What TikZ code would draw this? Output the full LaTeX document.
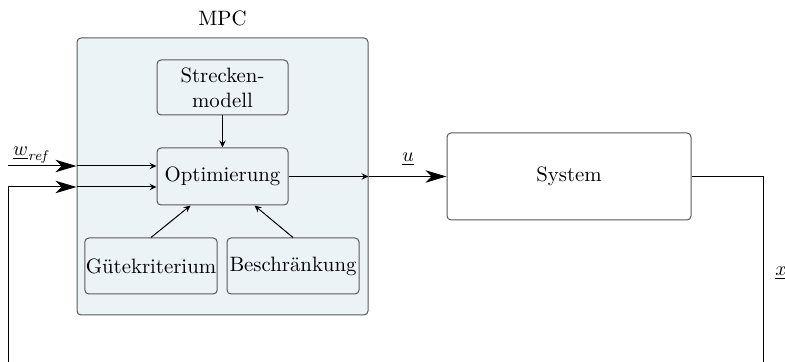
\documentclass[tikz,border=0pt]{standalone}
\usetikzlibrary{arrows.meta,calc}
\definecolor{mpcfill}{HTML}{ECF3F7}
\begin{document}
\begin{tikzpicture}[x=0.5pt,y=-0.5pt,
  every node/.style={font=\fontsize{10.4}{12.6}\selectfont},
  blockbox/.style={draw=black!65,line width=0.5pt,rounded corners=2pt,inner sep=0.5pt,align=center},
  conn/.style={line width=0.5pt},
  small/.style={-{Stealth[length=3.5pt,width=3.2pt,inset=1.3pt]}},
  big/.style={-{Stealth[length=10.5pt,width=6.2pt,inset=3pt]}}]
\useasboundingbox (0,0) rectangle (785,362);

% controller frame and its parts
\node[blockbox,fill=mpcfill,minimum width=145.5pt,minimum height=138.5pt] (mpc) at (222.5,176.5) {};
\node[above=2pt] (mpclabel) at (mpc.north) {MPC};
\node[blockbox,minimum width=65.5pt,minimum height=27.5pt] (model) at (222.5,87.5) {Strecken-\\modell};
\node[blockbox,minimum width=65.5pt,minimum height=28.5pt] (opt) at (222.5,176.5) {Optimierung};
\node[blockbox,minimum width=66pt,minimum height=28pt] (cost) at (151,266) {Gütekriterium};
\node[blockbox,minimum width=66pt,minimum height=28pt] (limit) at (293,266) {Beschränkung};

% plant
\node[blockbox,minimum width=122pt,minimum height=43.5pt] (sys) at (569,176.5) {System};

% inner connectors
\draw[conn,small] (model) -- (opt);
\draw[conn,small] (cost.north) -- ([xshift=-16pt]opt.south);
\draw[conn,small] (limit.north) -- ([xshift=16pt]opt.south);

% reference input
\coordinate (wstart) at (8,166);
\coordinate (win) at (mpc.west |- wstart);
\draw[conn,big] (wstart) -- (win);
\draw[conn,small] (win) -- (opt.west |- win);
\node (wlabel) at (32,155) {$\underline{w}_{\mathit{ref}}$};

% control signal
\coordinate (uout) at (mpc.east |- opt.east);
\draw[conn,small] (opt.east) -- (uout);
\draw[conn,big] (uout) -- (sys.west);
\node (ulabel) at (408,159) {$\underline{u}$};

% state feedback
\coordinate (xcorner) at (763,176.5);
\coordinate (xdown) at (763,400);
\coordinate (xleft) at (8,400);
\coordinate (xup) at (8,187);
\coordinate (xin) at (mpc.west |- xup);
\draw[conn,big] (sys.east) -- (xcorner) -- (xdown) -- (xleft) -- (xup) -- (xin);
\draw[conn,small] (xin) -- (opt.west |- xin);
\node[anchor=west,inner sep=0pt] (xlabel) at (775,273) {$\underline{x}$};
\end{tikzpicture}
\end{document}
